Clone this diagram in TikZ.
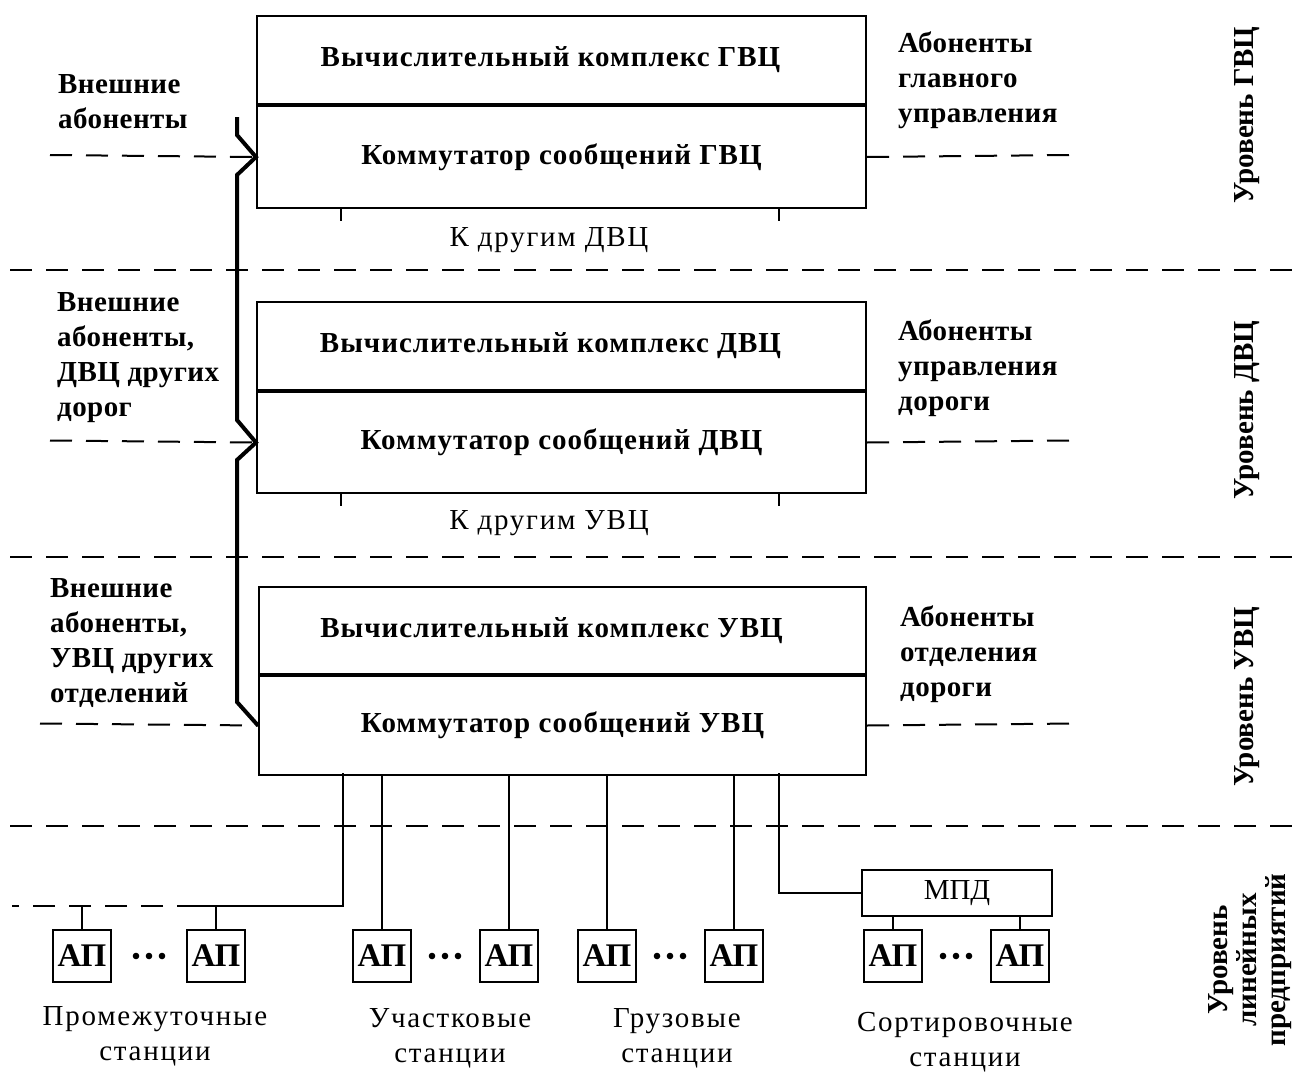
\documentclass[tikz,border=0pt]{standalone}
\usepackage{fontspec}
\setmainfont{Liberation Serif}
\begin{document}
\begin{tikzpicture}[x=1pt,y=-1pt,
  txt/.style={inner sep=0pt, font=\fontsize{29}{35}\selectfont\bfseries\addfontfeatures{LetterSpace=1.5}},
  reg/.style={inner sep=0pt, font=\fontsize{29}{35}\selectfont\addfontfeatures{LetterSpace=6}},
  box/.style={draw, line width=2pt, minimum width=609pt, inner sep=0pt, font=\fontsize{29}{35}\selectfont\bfseries\addfontfeatures{LetterSpace=3.5}},
  ap/.style={draw, line width=2pt, minimum width=58pt, minimum height=52pt, inner sep=0pt, font=\fontsize{33}{35}\selectfont\bfseries},
  wire/.style={line width=2pt},
  bus/.style={line width=4pt},
  dline/.style={line width=2pt, dash pattern=on 22pt off 14pt},
  lvl/.style={rotate=90, inner sep=0pt, font=\fontsize{29}{29}\selectfont\bfseries, align=center}
]
\useasboundingbox[fill=white] (0,0) rectangle (1296,1073);

% level separators
\coordinate (s1a) at (10,270); \coordinate (s1b) at (1296,270);
\coordinate (s2a) at (10,557); \coordinate (s2b) at (1296,557);
\coordinate (s3a) at (10,826); \coordinate (s3b) at (1296,826);
\draw[dline] (s1a) -- (s1b);
\draw[dline] (s2a) -- (s2b);
\draw[dline] (s3a) -- (s3b);

% GVC
\node[box, minimum height=88pt] (g1) at (561.5,60) {Вычислительный комплекс ГВЦ\hspace*{22pt}};
\node[box, minimum height=102pt, anchor=north] (g2) at (g1.south) {Коммутатор сообщений ГВЦ};
% DVC
\node[box, minimum height=88pt] (d1) at (561.5,346) {Вычислительный комплекс ДВЦ\hspace*{22pt}};
\node[box, minimum height=101pt, anchor=north] (d2) at (d1.south) {Коммутатор сообщений ДВЦ};
% UVC
\node[box, minimum width=607pt, minimum height=87pt] (u1) at (562.5,630.5) {Вычислительный комплекс УВЦ\hspace*{22pt}};
\node[box, minimum width=607pt, minimum height=99pt, anchor=north] (u2) at (u1.south) {Коммутатор сообщений УВЦ};

% stubs to other centres
\draw[wire] (g2.south west) ++(85,0) -- ++(0,12);
\draw[wire] (g2.south east) ++(-88,0) -- ++(0,12);
\draw[wire] (d2.south west) ++(85,0) -- ++(0,12);
\draw[wire] (d2.south east) ++(-88,0) -- ++(0,12);
\node[reg] (kg) at (549,240) {К другим ДВЦ};
\node[reg] (kd) at (549,523) {К другим УВЦ};

% left bus
\coordinate (b0) at (237,117);
\coordinate (b1) at (237,135);
\coordinate (b2) at (237,175);
\coordinate (b3) at (237,420);
\coordinate (b4) at (237,460);
\coordinate (b5) at (237,702);
\draw[bus] (b0) -- (b1) -- (g2.west) -- (b2) -- (b3) -- (d2.west) -- (b4) -- (b5) -- (u2.west);

% external subscribers (dashed)
\coordinate (eg) at (50,155);
\coordinate (ed) at (50,440.5);
\coordinate (eu) at (40,723.5);
\draw[dline] (eg) -- (g2.west);
\draw[dline] (ed) -- (d2.west);
\draw[dline] (eu) -- (u2.west);
\coordinate (rg) at (1070,155);
\coordinate (rd) at (1070,440.5);
\coordinate (ru) at (1075,723.5);
\draw[dline] (g2.east) -- (rg);
\draw[dline] (d2.east) -- (rd);
\draw[dline] (u2.east) -- (ru);

% left labels
\node[txt, align=left, anchor=west] (lg) at (58,102) {Внешние\\абоненты};
\node[txt, align=left, anchor=west] (ld) at (57,358) {Внешние\\абоненты,\\ДВЦ других\\дорог};
\node[txt, align=left, anchor=west] (lu) at (50,643) {Внешние\\абоненты,\\УВЦ других\\отделений};
% right labels
\node[txt, align=left, anchor=west] (rgl) at (898,80) {Абоненты\\главного\\управления};
\node[txt, align=left, anchor=west] (rdl) at (898,368) {Абоненты\\управления\\дороги};
\node[txt, align=left, anchor=west] (rul) at (900,654) {Абоненты\\отделения\\дороги};

% level labels
\node[lvl] (lv1) at (1247,115) {Уровень ГВЦ};
\node[lvl] (lv2) at (1247,410) {Уровень ДВЦ};
\node[lvl] (lv3) at (1247,697) {Уровень УВЦ};
\node[lvl] (lv4) at (1250,960) {Уровень\\линейных\\предприятий};

% linear enterprises
\node[ap] (a1) at (82,956) {АП};
\node[ap] (a2) at (216,956) {АП};
\node[ap] (a3) at (382,956) {АП};
\node[ap] (a4) at (509,956) {АП};
\node[ap] (a5) at (607,956) {АП};
\node[ap] (a6) at (734,956) {АП};
\node[ap] (a7) at (893,956) {АП};
\node[ap] (a8) at (1020,956) {АП};
\foreach \cx in {149,445,670,956}
  \foreach \dx in {-13,0,13}
    \fill (\cx+\dx,956) circle (3.3pt);

\node[draw, line width=2pt, minimum width=190pt, minimum height=46pt, inner sep=0pt, font=\fontsize{29}{35}\selectfont] (mpd) at (957,893) {МПД};

% group 1
\coordinate (v1t) at (343,773);
\coordinate (v1b) at (343,906);
\coordinate (h1) at (199,906);
\coordinate (h0) at (12,906);
\draw[wire] (v1t) -- (v1b) -- (h1);
\draw[dline] (h1) -- (h0);
\draw[wire] (a1.north) -- (a1.north |- h1);
\draw[wire] (a2.north) -- (a2.north |- h1);
% groups 2,3
\draw[wire] (a3.north |- u2.south) -- (a3.north);
\draw[wire] (a4.north |- u2.south) -- (a4.north);
\draw[wire] (a5.north |- u2.south) -- (a5.north);
\draw[wire] (a6.north |- u2.south) -- (a6.north);
% group 4
\coordinate (v4) at (779,773);
\draw[wire] (v4) -- (v4 |- mpd.west) -- (mpd.west);
\draw[wire] (a7.north) -- (a7.north |- mpd.south);
\draw[wire] (a8.north) -- (a8.north |- mpd.south);

% station captions
\node[reg, align=center] (c1) at (155,1036) {Промежуточные\\станции};
\node[reg, align=center] (c2) at (450,1038) {Участковые\\станции};
\node[reg, align=center] (c3) at (677,1038) {Грузовые\\станции};
\node[reg, align=center] (c4) at (965,1042) {Сортировочные\\станции};
\end{tikzpicture}
\end{document}
